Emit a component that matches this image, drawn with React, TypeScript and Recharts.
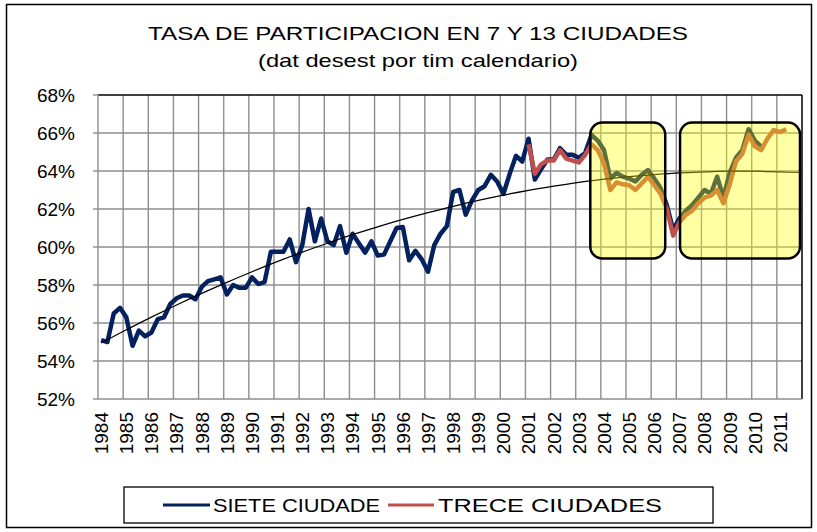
import {
  Line,
  LineChart,
  ReferenceArea,
  ReferenceLine,
  XAxis,
  YAxis,
} from "recharts";

const years = [
  1984, 1985, 1986, 1987, 1988, 1989, 1990, 1991, 1992, 1993, 1994, 1995, 1996, 1997,
  1998, 1999, 2000, 2001, 2002, 2003, 2004, 2005, 2006, 2007, 2008, 2009, 2010, 2011,
];

// quarterly, 1984Q1 - 2010Q2
const sieteCiudades = [
  55.1, 55.0, 56.5, 56.8,
  56.3, 54.8, 55.6, 55.3,
  55.5, 56.2, 56.3, 57.0,
  57.3, 57.45, 57.45, 57.25,
  57.9, 58.2, 58.3, 58.4,
  57.5, 58.0, 57.85, 57.85,
  58.4, 58.05, 58.15, 59.75,
  59.75, 59.75, 60.4, 59.2,
  60.1, 62.0, 60.3, 61.5,
  60.3, 60.1, 61.1, 59.7,
  60.7, 60.2, 59.7, 60.3,
  59.55, 59.6, 60.3, 61.0,
  61.05, 59.3, 59.8, 59.35,
  58.7, 60.1, 60.7, 61.1,
  62.9, 63.0, 61.7, 62.45,
  63.0, 63.2, 63.8, 63.45,
  62.8, 63.85, 64.8, 64.5,
  65.7, 63.55, 64.1, 64.6,
  64.6, 65.2, 64.85, 64.85,
  64.7, 64.95, 65.9, 65.6,
  65.1, 63.6, 63.9, 63.7,
  63.6, 63.45, 63.8, 64.05,
  63.6, 63.1, 62.2, 60.9,
  61.5, 61.9, 62.2, 62.6,
  63.0, 62.8, 63.7, 62.6,
  63.9, 64.7, 65.1, 66.2,
  65.6, 65.3,
];

// quarterly, 2001Q1 - 2011Q2
const treceStart = 2001;
const treceCiudades = [
  65.4, 63.85, 64.35, 64.55,
  64.55, 65.1, 64.65, 64.55,
  64.45, 64.85, 65.4, 65.1,
  64.4, 63.0, 63.4, 63.3,
  63.25, 63.0, 63.35, 63.7,
  63.25, 62.8, 62.0, 60.6,
  61.3, 61.7, 61.9, 62.3,
  62.6, 62.7, 63.0, 62.3,
  63.3, 64.5, 64.9, 65.9,
  65.3, 65.1, 65.7, 66.15,
  66.05, 66.2,
];

// trend (poly), read at first quarter of each year + last quarter of 2011
const tendencia = [
  54.95, 55.64, 56.31, 56.95, 57.56, 58.14, 58.7, 59.23, 59.73, 60.2, 60.65, 61.06,
  61.45, 61.81, 62.14, 62.45, 62.73, 62.98, 63.2, 63.4, 63.57, 63.7, 63.81, 63.9,
  63.95, 63.99, 63.99, 63.95, 63.92,
];

const yTicks = [52, 54, 56, 58, 60, 62, 64, 66, 68];

const zonas = [
  { x1: 2003.58, x2: 2006.56, y1: 59.4, y2: 66.55 },
  { x1: 2007.15, x2: 2011.92, y1: 59.4, y2: 66.55 },
];

const FONT = "'Liberation Sans', Arial, sans-serif";
const NAVY = "#04215f";
const RED = "#c0504d";
const GRID = "#8e8e8e";

const lastYear = years[years.length - 1];
const gridYears = [...years, lastYear + 1];
const labelTicks = years.map((y) => y + 0.125);

const rows = years.flatMap((yr, yi) =>
  [0, 1, 2, 3].map((q) => {
    const i = yi * 4 + q;
    const j = i - (treceStart - years[0]) * 4;
    return {
      t: yr + (q + 0.5) / 4,
      siete: sieteCiudades[i] ?? null,
      trece: j >= 0 ? treceCiudades[j] ?? null : null,
    };
  })
);

const trendRows = tendencia.map((v, k) => ({
  t: k < years.length ? years[k] + 0.125 : lastYear + 0.875,
  tend: v,
}));

function YearTick({ x, y, payload }: any) {
  return (
    <text
      x={x}
      y={y}
      transform={`rotate(-90 ${x} ${y})`}
      textAnchor="end"
      dy="0.36em"
      fontSize={19}
      fontFamily={FONT}
      fill="#000"
    >
      {Math.floor(payload.value)}
    </text>
  );
}

function Zona(props: any) {
  const { x, y, width, height } = props;
  return (
    <rect
      x={x}
      y={y}
      width={width}
      height={height}
      rx={12}
      ry={12}
      fill="#ffff00"
      fillOpacity={0.36}
      stroke="#000"
      strokeWidth={2.5}
    />
  );
}

export default function App() {
  return (
    <div style={{ position: "relative", width: 817, height: 532 }}>
      <style>{`body{margin:0}`}</style>
      <LineChart
        width={817}
        height={532}
        data={rows}
        margin={{ top: 95, right: 15, left: 38, bottom: 67 }}
      >
        <XAxis
          dataKey="t"
          type="number"
          domain={[years[0], lastYear + 1]}
          allowDataOverflow
          ticks={gridYears}
          interval={0}
          tick={false}
          tickSize={6}
          height={6}
          stroke={GRID}
          strokeWidth={1.4}
        />
        <XAxis
          xAxisId="lbl"
          dataKey="t"
          type="number"
          domain={[years[0], lastYear + 1]}
          allowDataOverflow
          ticks={labelTicks}
          interval={0}
          axisLine={false}
          tickLine={false}
          tickSize={0}
          tickMargin={7}
          height={60}
          tick={<YearTick />}
        />
        <YAxis
          domain={[52, 68]}
          ticks={yTicks}
          interval={0}
          width={60}
          tickSize={5}
          tickMargin={18}
          stroke={GRID}
          strokeWidth={1.4}
          tickFormatter={(v) => `${v}%`}
          tick={{ fill: "#000", fontSize: 19, fontFamily: FONT }}
        />
        {gridYears.slice(1, -1).map((yr) => (
          <ReferenceLine key={`gx${yr}`} x={yr} stroke={GRID} strokeWidth={1.4} zIndex={-100} />
        ))}
        {yTicks.slice(1, -1).map((v) => (
          <ReferenceLine key={`gy${v}`} y={v} stroke={GRID} strokeWidth={1.4} zIndex={-100} />
        ))}
        <ReferenceLine y={68} stroke="#000" strokeWidth={1.5} zIndex={-90} />
        <ReferenceLine x={lastYear + 1} stroke="#000" strokeWidth={1.5} zIndex={-90} />
        <Line
          dataKey="siete"
          type="linear"
          stroke={NAVY}
          strokeWidth={4.5}
          dot={false}
          strokeLinejoin="round"
          isAnimationActive={false}
        />
        <Line
          dataKey="trece"
          type="linear"
          stroke={RED}
          strokeWidth={4.5}
          dot={false}
          strokeLinejoin="round"
          isAnimationActive={false}
        />
        <Line
          data={trendRows}
          dataKey="tend"
          type="monotone"
          stroke="#000"
          strokeWidth={1.2}
          dot={false}
          isAnimationActive={false}
        />
        {zonas.map((z, k) => (
          <ReferenceArea
            key={k}
            x1={z.x1}
            x2={z.x2}
            y1={z.y1}
            y2={z.y2}
            shape={<Zona />}
            zIndex={1000}
          />
        ))}
      </LineChart>

      <svg
        width={817}
        height={532}
        style={{ position: "absolute", left: 0, top: 0, pointerEvents: "none" }}
        fontFamily={FONT}
      >
        <rect x={6.5} y={4.5} width={805} height={523} fill="none" stroke="#000" strokeWidth={1.5} />
        <text x={148} y={40} fontSize={19} textLength={540} lengthAdjust="spacingAndGlyphs">
          TASA DE PARTICIPACION EN 7 Y 13 CIUDADES
        </text>
        <text x={258} y={67} fontSize={19} textLength={320} lengthAdjust="spacingAndGlyphs">
          (dat desest por tim calendario)
        </text>
        <rect x={124} y={487} width={589} height={36} fill="#fff" stroke="#000" strokeWidth={1.3} />
        <line x1={163} y1={505} x2={210} y2={505} stroke={NAVY} strokeWidth={3} />
        <text x={213} y={512} fontSize={19} textLength={167} lengthAdjust="spacingAndGlyphs">
          SIETE CIUDADE
        </text>
        <line x1={388} y1={505} x2={434} y2={505} stroke={RED} strokeWidth={3} />
        <text x={438} y={512} fontSize={19} textLength={224} lengthAdjust="spacingAndGlyphs">
          TRECE CIUDADES
        </text>
      </svg>
    </div>
  );
}
